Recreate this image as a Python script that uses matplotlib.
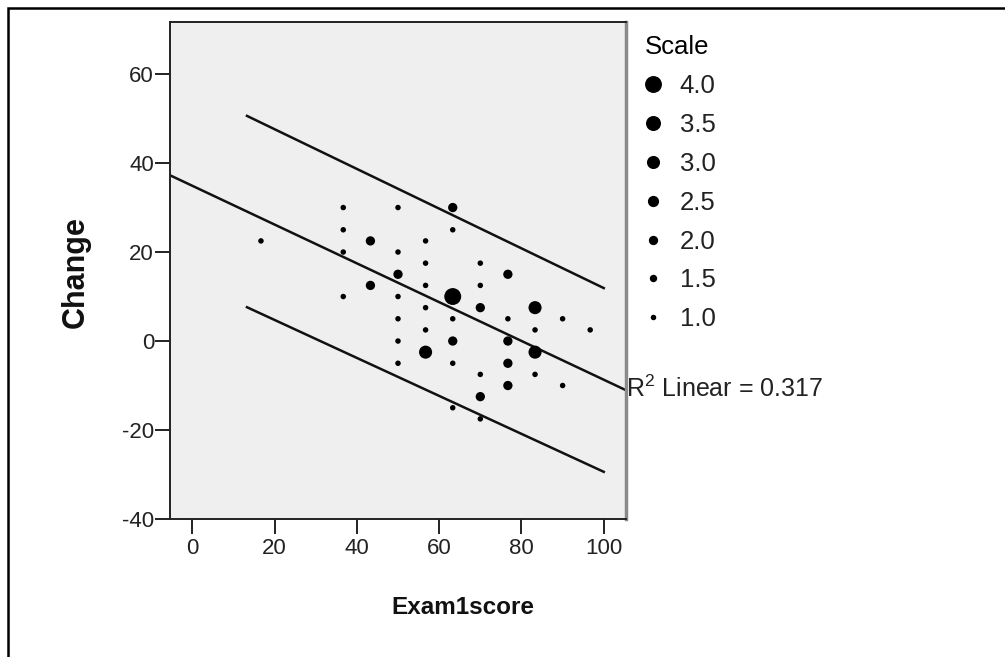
import numpy as np
import matplotlib.pyplot as plt
from matplotlib.patches import Rectangle
from matplotlib.lines import Line2D

plt.rcParams['font.family'] = ['Liberation Sans', 'DejaVu Sans']

# Exam1score / Change, with the number of cases at each spot ("Scale")
exam1 = [16.7,
         36.7, 36.7, 36.7, 36.7,
         43.3, 43.3,
         50, 50, 50, 50, 50, 50, 50,
         56.7, 56.7, 56.7, 56.7, 56.7, 56.7,
         63.3, 63.3, 63.3, 63.3, 63.3, 63.3, 63.3,
         70, 70, 70, 70, 70, 70,
         76.7, 76.7, 76.7, 76.7, 76.7,
         83.3, 83.3, 83.3, 83.3,
         90, 90,
         96.7]
change = [22.5,
          30, 25, 20, 10,
          22.5, 12.5,
          30, 20, 15, 10, 5, 0, -5,
          22.5, 17.5, 12.5, 7.5, 2.5, -2.5,
          30, 25, 10, 5, 0, -5, -15,
          17.5, 12.5, 7.5, -7.5, -12.5, -17.5,
          15, 5, 0, -5, -10,
          7.5, 2.5, -2.5, -7.5,
          5, -10,
          2.5]
scale = [1,
         1, 1, 1, 1,
         2, 2,
         1, 1, 2, 1, 1, 1, 1,
         1, 1, 1, 1, 1, 3,
         2, 1, 4, 1, 2, 1, 1,
         1, 1, 2, 1, 2, 1,
         2, 1, 2, 2, 2,
         3, 1, 3, 1,
         1, 1,
         1]

legend_values = [4.0, 3.5, 3.0, 2.5, 2.0, 1.5, 1.0]

# fit line and 95% individual prediction band
fit_intercept = 34.9
fit_slope = -0.436
r2 = 0.317
band_x = [13.3, 100]
band_upper = [50.6, 11.9]
band_lower = [7.6, -29.4]


def marker_area(v):
    d_px = 5.5 + 3.8 * (np.asarray(v, dtype=float) - 1)
    return (d_px * 72 / 100) ** 2


fig = plt.figure(figsize=(10.05, 6.57), dpi=100)
ax = fig.add_axes([170 / 1005, 138 / 657, 456 / 1005, 497 / 657])
ax.set_facecolor('#efefef')

ax.set_xlim(-5.4, 105.4)
ax.set_ylim(-40, 71.7)

ax.scatter(exam1, change, s=marker_area(scale), c='black', linewidths=0, zorder=3)

xl = np.array(ax.get_xlim())
ax.plot(xl, fit_intercept + fit_slope * xl, color='#111111', lw=1.8, zorder=2)
ax.plot(band_x, band_upper, color='#111111', lw=1.8, zorder=2)
ax.plot(band_x, band_lower, color='#111111', lw=1.8, zorder=2)

ax.text(xl[1], fit_intercept + fit_slope * xl[1] + 0.4,
        r'R$^\mathregular{2}$ Linear = ' + f'{r2:.3f}',
        ha='left', va='center', fontsize=18, color='#222222', clip_on=False)

ax.set_xticks([0, 20, 40, 60, 80, 100])
ax.set_yticks([-40, -20, 0, 20, 40, 60])
ax.set_yticklabels(['-40', '-20', '0', '20', '40', '60'])
ax.tick_params(direction='out', length=10.5, width=1.4, labelsize=16,
               colors='#222222')
ax.tick_params(axis='y', pad=1)
ax.tick_params(axis='x', pad=3)
for s in ['left', 'bottom', 'top']:
    ax.spines[s].set_color('#222222')
    ax.spines[s].set_linewidth(1.4)
ax.spines['right'].set_color('#8a8a8a')
ax.spines['right'].set_linewidth(2.5)

fig.text(463 / 1005, 1 - 607 / 657, 'Exam1score', ha='center', va='center',
         fontsize=17.5, fontweight='bold', color='#111111')
fig.text(76 / 1005, 1 - 272 / 657, 'Change', ha='center', va='center',
         rotation=90, fontsize=22, fontweight='bold', color='#111111')

handles = [Line2D([], [], ls='none', marker='o', color='black',
                  markeredgewidth=0,
                  markersize=np.sqrt(marker_area(v))) for v in legend_values]
fig.legend(handles, [f'{v:.1f}' for v in legend_values], title='Scale',
           loc='upper left', bbox_to_anchor=(645 / 1005, 1 - 35 / 657),
           frameon=False, fontsize=18.5, title_fontsize=18.5, labelspacing=0.58,
           handlelength=0.6, handletextpad=0.75, borderpad=0, borderaxespad=0,
           alignment='left', labelcolor='#222222')

# outer frame (top and left edges visible)
fig.add_artist(Rectangle((8 / 1005, -0.5), 2, 0.5 + 1 - 8 / 657,
                         transform=fig.transFigure, fill=False,
                         edgecolor='black', lw=1.8))

fig.savefig('out.png', dpi=100)
